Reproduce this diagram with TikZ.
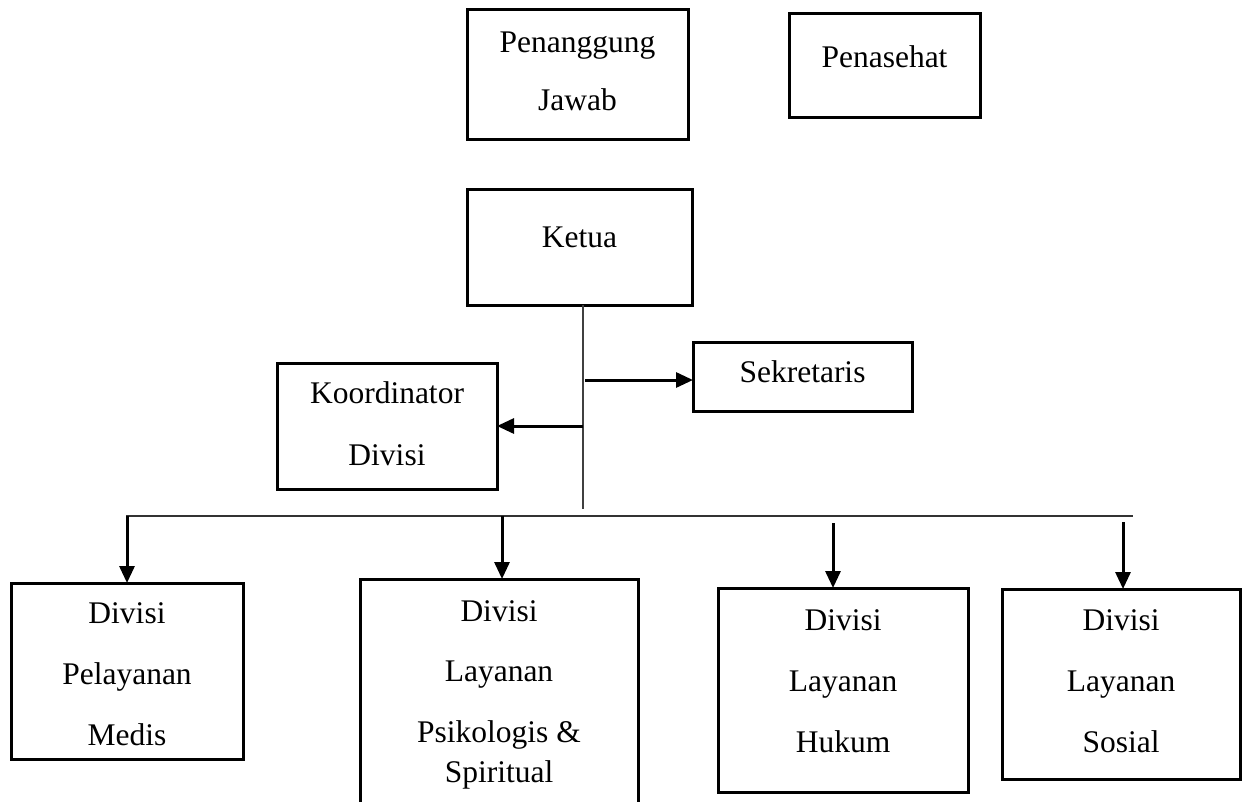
\documentclass[tikz,border=0pt]{standalone}
\usepackage{fontspec}
\setmainfont{Liberation Serif}
\usetikzlibrary{arrows.meta}
\tikzset{
  box/.style={draw, line width=3pt, inner sep=0pt, outer sep=0pt},
  lbl/.style={anchor=base, align=center, inner sep=0pt},
  arr/.style={line width=3pt, -{Triangle[length=17pt,width=15pt]}},
  thinline/.style={line width=1.5pt, black!75},
  busline/.style={line width=2pt, black!80},
}
\begin{document}
\begin{tikzpicture}[x=1pt,y=-1pt]
\useasboundingbox (0,0) rectangle (1249,801);
\clip (0,0) rectangle (1249,801);
% boxes
\node[box, minimum width=221pt, minimum height=130pt] (pj) at (577.5,74) {};
\node[box, minimum width=191pt, minimum height=104pt] (pn) at (884.5,65) {};
\node[box, minimum width=225pt, minimum height=116pt] (ketua) at (579.5,247) {};
\node[box, minimum width=219pt, minimum height=69pt] (sek) at (802.5,376.5) {};
\node[box, minimum width=220pt, minimum height=126pt] (koord) at (387,426) {};
\node[box, minimum width=232pt, minimum height=176pt] (medis) at (127,671) {};
\node[box, minimum width=278pt, minimum height=261pt] (psi) at (499,709.5) {};
\node[box, minimum width=250pt, minimum height=204pt] (hukum) at (843,690) {};
\node[box, minimum width=238pt, minimum height=190pt] (sosial) at (1121,684) {};
% labels (base anchor = baseline of the last line)
\node[lbl, font=\fontsize{31.5}{58}\selectfont] (tpj) at (577.5,110) {Penanggung\\Jawab};
\node[lbl, font=\fontsize{31.5}{58}\selectfont] (tpn) at (884.5,67) {Penasehat};
\node[lbl, font=\fontsize{31.5}{58}\selectfont] (tketua) at (579.5,247) {Ketua};
\node[lbl, font=\fontsize{31.5}{58}\selectfont] (tsek) at (802.5,382) {Sekretaris};
\node[lbl, font=\fontsize{31.5}{62}\selectfont] (tkoord) at (387,465) {Koordinator\\Divisi};
\node[lbl, font=\fontsize{31.5}{61}\selectfont] (tmedis) at (127,745) {Divisi\\Pelayanan\\Medis};
\node[lbl, font=\fontsize{31.5}{60.5}\selectfont] (tpsi) at (499,782) {Divisi\\Layanan\\Psikologis \&\\[-20.5pt]Spiritual};
\node[lbl, font=\fontsize{31.5}{61}\selectfont] (thukum) at (843,752) {Divisi\\Layanan\\Hukum};
\node[lbl, font=\fontsize{31.5}{61}\selectfont] (tsosial) at (1121,752) {Divisi\\Layanan\\Sosial};
% connectors
\coordinate (vb) at (583,509);
\draw[thinline] (ketua.south -| vb) -- (vb);
\coordinate (js) at (585,380);
\draw[arr] (js) -- (js -| sek.west);
\coordinate (jk) at (583,426);
\draw[arr] (jk) -- (jk -| koord.east);
\coordinate (hl) at (126,516);
\coordinate (hr) at (1133,516);
\draw[busline] (hl) -- (hr);
\draw[arr] (medis.north |- hl) -- (medis.north);
\coordinate (hp) at (502,516);
\draw[arr] (hp) -- (hp |- psi.north);
\coordinate (hh) at (833,523);
\draw[arr] (hh) -- (hh |- hukum.north);
\coordinate (hs) at (1123,522);
\draw[arr] (hs) -- (hs |- sosial.north);
\end{tikzpicture}
\end{document}
